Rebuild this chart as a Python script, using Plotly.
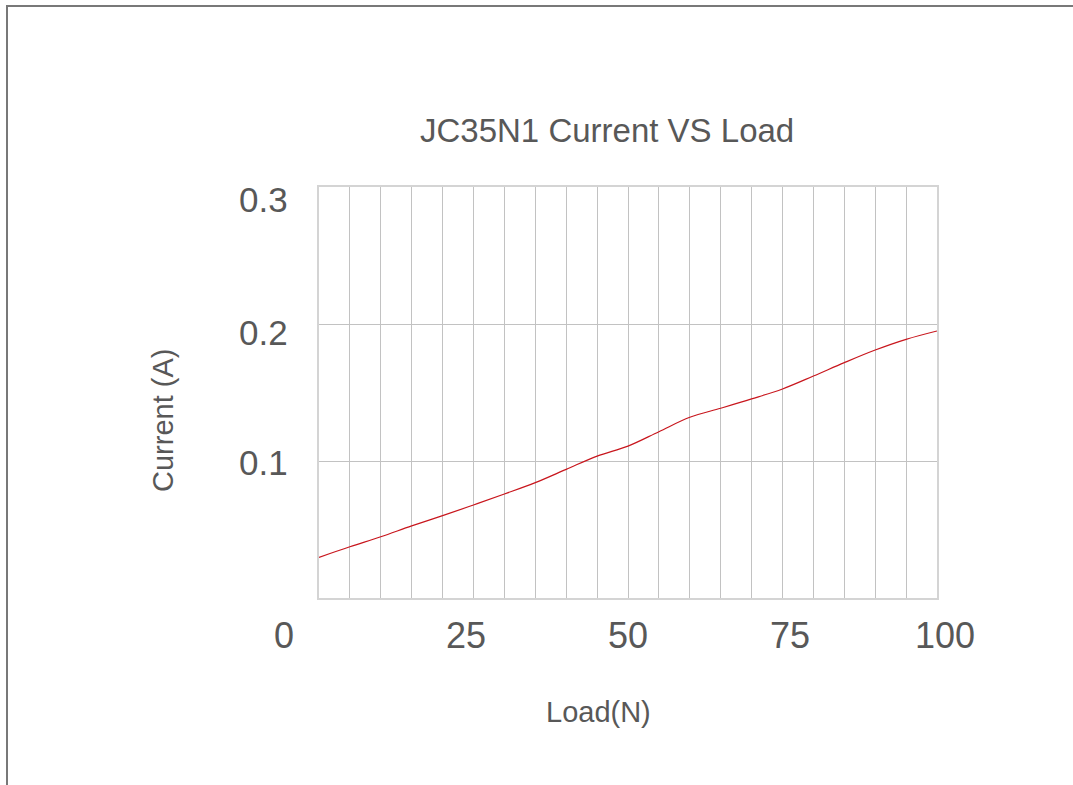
import plotly.graph_objects as go

# Data
load_n = [0, 5, 10, 15, 20, 25, 30, 35, 40, 45, 50, 55, 60, 65, 70, 75, 80, 85, 90, 95, 100]
current_a = [0.0297, 0.0374, 0.0447, 0.0526, 0.0601, 0.0679, 0.0759, 0.0842, 0.0939, 0.1036,
             0.1109, 0.1214, 0.1319, 0.1385, 0.1453, 0.1526, 0.1620, 0.1718, 0.1810, 0.1888, 0.1949]

x_tick_labels = ["0", "25", "50", "75", "100"]
y_tick_labels = ["0.3", "0.2", "0.1"]

W, H = 1073, 785
L, R, T, B = 319, 937, 187, 598
pw, ph = R - L, B - T


def px(x):
    return (x - L) / pw


def py(y):
    return (B - y) / ph


FONT = "Liberation Sans, Arial, sans-serif"
TXT = "#585858"

fig = go.Figure()
fig.add_trace(go.Scatter(x=load_n, y=current_a, mode="lines",
                         line=dict(color="#c8161d", width=1.2, shape="spline", smoothing=1.0),
                         showlegend=False, hoverinfo="x+y"))

fig.update_layout(
    width=W, height=H,
    margin=dict(l=L, r=W - R, t=T, b=H - B, pad=0),
    paper_bgcolor="white", plot_bgcolor="white",
    font=dict(family=FONT, color=TXT),
    showlegend=False,
    xaxis=dict(range=[0, 100], dtick=5, tick0=0, showgrid=True, gridcolor="#c2c2c2", gridwidth=1,
               showticklabels=False, ticks="", zeroline=False,
               showline=True, linecolor="#d4d4d4", linewidth=2, mirror=True, fixedrange=True),
    yaxis=dict(range=[0, 0.3], dtick=0.1, tick0=0, showgrid=True, gridcolor="#c2c2c2", gridwidth=1,
               showticklabels=False, ticks="", zeroline=False,
               showline=True, linecolor="#d4d4d4", linewidth=2, mirror=True, fixedrange=True),
)

ann = []
# Title
ann.append(dict(text="JC35N1 Current VS Load", x=px(607), y=py(131), xref="paper", yref="paper",
                showarrow=False, xanchor="center", yanchor="middle",
                font=dict(size=33, family=FONT, color=TXT)))
# Axis titles
ann.append(dict(text="Load(N)", x=px(598), y=py(712), xref="paper", yref="paper",
                showarrow=False, xanchor="center", yanchor="middle",
                font=dict(size=29, family=FONT, color=TXT)))
ann.append(dict(text="Current (A)", x=px(163), y=py(421), xref="paper", yref="paper",
                showarrow=False, xanchor="center", yanchor="middle", textangle=-90,
                font=dict(size=29, family=FONT, color=TXT)))
# Y tick labels
for lab, yc in zip(y_tick_labels, [199.5, 332, 462.5]):
    ann.append(dict(text=lab, x=px(237), y=py(yc), xref="paper", yref="paper",
                    showarrow=False, xanchor="left", yanchor="middle",
                    font=dict(size=35, family=FONT, color=TXT)))
# X tick labels
for lab, xc in zip(x_tick_labels, [284, 465.5, 628, 790, 945]):
    ann.append(dict(text=lab, x=px(xc), y=py(635), xref="paper", yref="paper",
                    showarrow=False, xanchor="center", yanchor="middle",
                    font=dict(size=36, family=FONT, color=TXT)))
fig.update_layout(annotations=ann)

# Outer frame (top and left visible)
fig.add_shape(type="rect", xref="paper", yref="paper",
              x0=px(7), x1=px(W + 20), y0=py(6), y1=py(H + 20),
              line=dict(color="#787878", width=2), fillcolor="rgba(0,0,0,0)", layer="above")

fig.write_html("out.html", config={"displayModeBar": False},
               post_script="document.body.style.margin='0';document.body.style.overflow='hidden';")
